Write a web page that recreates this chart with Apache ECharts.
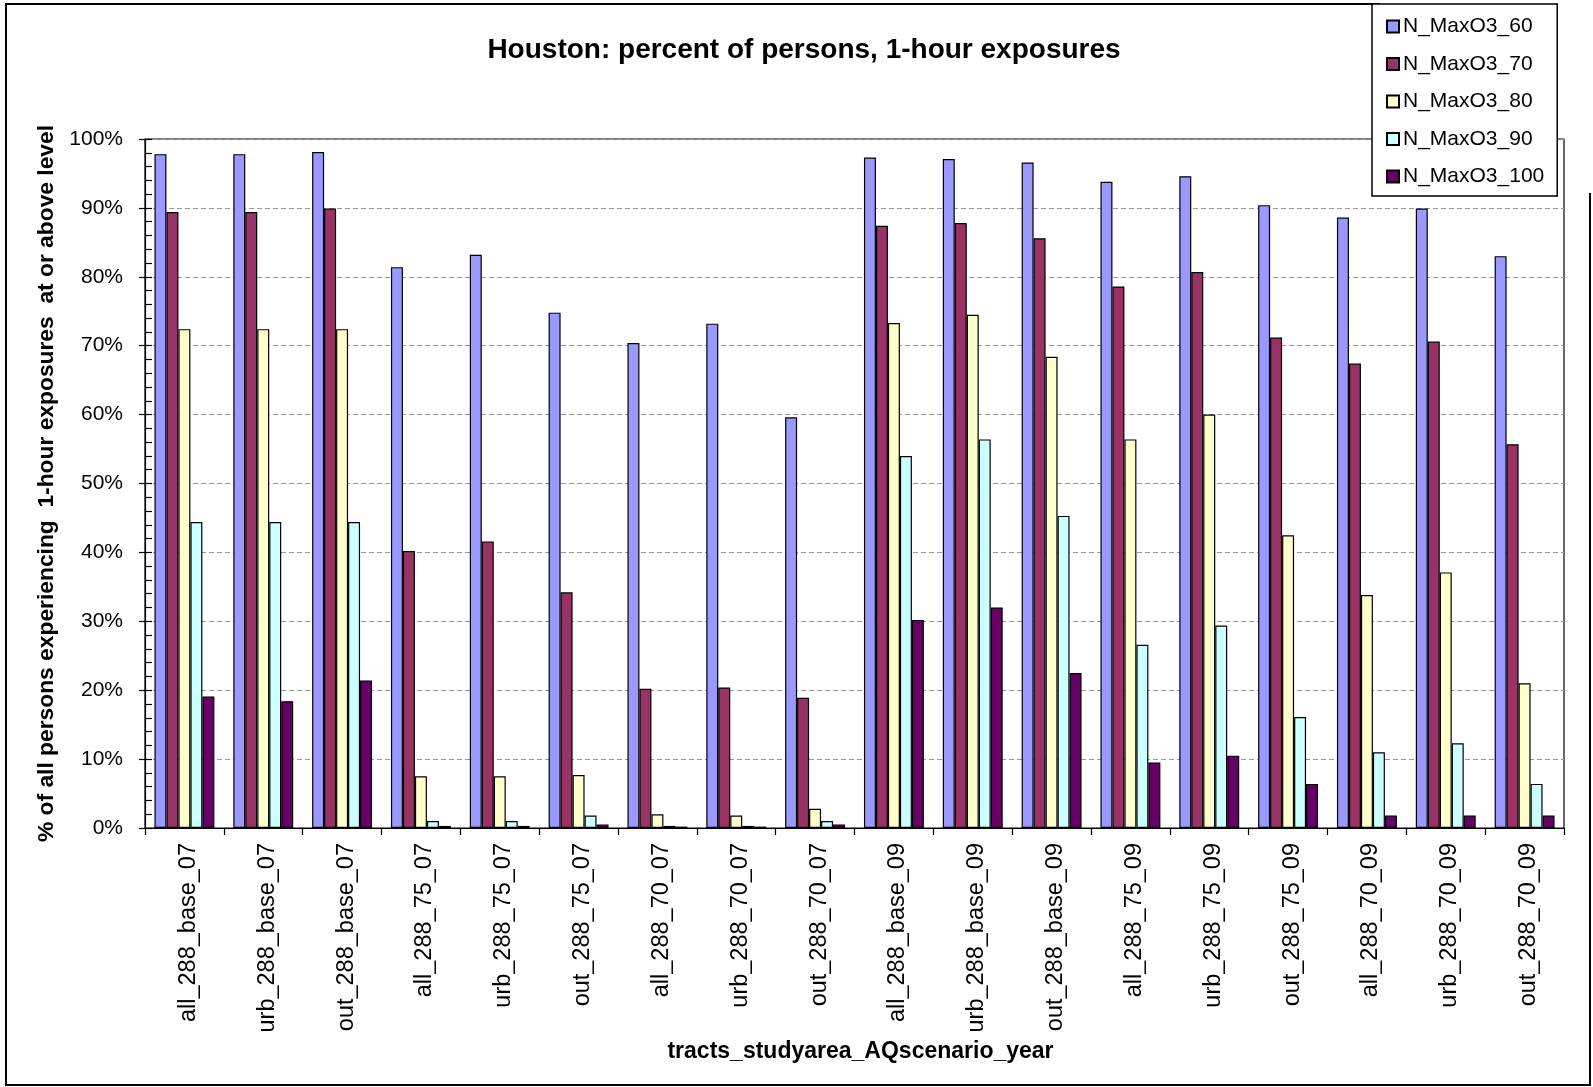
<!DOCTYPE html>
<html>
<head>
<meta charset="utf-8">
<script src="https://cdn.jsdelivr.net/npm/echarts@6/dist/echarts.min.js"></script>
<style>
  html, body { margin: 0; padding: 0; background: #fff; }
  #chart { width: 1593px; height: 1087px; }
</style>
</head>
<body>
<div id="chart"></div>
<script>
// Study-area / air-quality scenario / year combinations
const categories = [
  'all_288_base_07', 'urb_288_base_07', 'out_288_base_07',
  'all_288_75_07', 'urb_288_75_07', 'out_288_75_07',
  'all_288_70_07', 'urb_288_70_07', 'out_288_70_07',
  'all_288_base_09', 'urb_288_base_09', 'out_288_base_09',
  'all_288_75_09', 'urb_288_75_09', 'out_288_75_09',
  'all_288_70_09', 'urb_288_70_09', 'out_288_70_09'
];

const seriesNames = ['N_MaxO3_60', 'N_MaxO3_70', 'N_MaxO3_80', 'N_MaxO3_90', 'N_MaxO3_100'];

// Percent of persons with a 1-hour max O3 at or above each level
const maxO3_60  = [97.8, 97.8, 98.1, 81.4, 83.2, 74.8, 70.4, 73.2, 59.6, 97.3, 97.1, 96.6, 93.8, 94.6, 90.4, 88.6, 89.9, 83.0];
const maxO3_70  = [89.4, 89.4, 89.9, 40.2, 41.6, 34.2, 20.2, 20.4, 18.9, 87.4, 87.8, 85.6, 78.6, 80.7, 71.2, 67.4, 70.6, 55.7];
const maxO3_80  = [72.4, 72.4, 72.4, 7.5, 7.5, 7.7, 2.0, 1.8, 2.8, 73.3, 74.5, 68.4, 56.4, 60.0, 42.5, 33.8, 37.1, 21.0];
const maxO3_90  = [44.4, 44.4, 44.4, 1.0, 1.0, 1.8, 0.3, 0.3, 1.0, 54.0, 56.4, 45.3, 26.6, 29.4, 16.1, 11.0, 12.3, 6.4];
const maxO3_100 = [19.1, 18.4, 21.4, 0.3, 0.3, 0.5, 0.2, 0.2, 0.5, 30.2, 32.0, 22.5, 9.5, 10.5, 6.4, 1.8, 1.8, 1.8];

const seriesValues = [maxO3_60, maxO3_70, maxO3_80, maxO3_90, maxO3_100];
const seriesColors = ['#9999FF', '#993366', '#FFFFCC', '#CCFFFF', '#660066'];

// Value axis: 0% .. 100% in steps of 10%
const yMin = 0, yMax = 100, yStep = 10;

const FONT = '"Liberation Sans", Arial, Helvetica, sans-serif';

const chart = echarts.init(document.getElementById('chart'), null, { renderer: 'canvas' });

const option = {
  backgroundColor: '#ffffff',
  animation: false,
  title: {
    text: 'Houston: percent of persons, 1-hour exposures',
    left: 799,
    top: 31,
    textAlign: 'center',
    textStyle: { fontFamily: FONT, fontSize: 28, fontWeight: 'bold', color: '#000' }
  },
  legend: {
    orient: 'vertical',
    left: 1372,
    top: 4,
    padding: [12, 13, 9, 14],
    itemWidth: 12,
    itemHeight: 12,
    itemGap: 16.5,
    icon: 'rect',
    backgroundColor: '#ffffff',
    borderColor: '#000000',
    borderWidth: 1.5,
    textStyle: { fontFamily: FONT, fontSize: 21, color: '#000', lineHeight: 21, padding: [0, 0, 0, -1] },
    data: seriesNames
  },
  grid: {
    left: 145,
    right: 29,
    top: 139,
    bottom: 259,
    show: true,
    borderColor: '#000',
    borderWidth: 1.2,
    backgroundColor: 'transparent'
  },
  xAxis: {
    type: 'category',
    data: categories,
    name: 'tracts_studyarea_AQscenario_year',
    nameLocation: 'middle',
    nameGap: 201,
    nameTextStyle: { fontFamily: FONT, fontSize: 23, fontWeight: 'bold', color: '#000', padding: [0, 0, 0, 12] },
    axisLine: { lineStyle: { color: '#000', width: 1.2 } },
    axisTick: { show: true, length: 7, lineStyle: { color: '#000', width: 1.2 } },
    axisLabel: {
      interval: 0,
      rotate: 90,
      margin: 15,
      verticalAlign: 'top',
      lineHeight: 8,
      fontFamily: FONT,
      fontSize: 23.5,
      color: '#000'
    }
  },
  yAxis: [
    {
      type: 'value',
      min: yMin,
      max: yMax,
      interval: yStep,
      name: '% of all persons experiencing  1-hour exposures  at or above level',
      nameLocation: 'middle',
      nameGap: 87,
      nameTextStyle: { fontFamily: FONT, fontSize: 22.8, fontWeight: 'bold', color: '#000' },
      axisLine: { show: true, lineStyle: { color: '#000', width: 1.2 } },
      axisTick: { show: true, inside: false, length: 6, lineStyle: { color: '#000', width: 1.2 } },
      axisLabel: {
        formatter: '{value}%',
        margin: 22,
        fontFamily: FONT,
        fontSize: 21,
        color: '#000'
      },
      splitLine: { show: true, lineStyle: { color: '#999', width: 1, type: [5, 3] } }
    },
    {
      // inner major + minor tick marks on the same left axis
      type: 'value',
      position: 'left',
      offset: 0,
      min: yMin,
      max: yMax,
      interval: yStep,
      axisLine: { show: false },
      axisLabel: { show: false },
      splitLine: { show: false },
      axisTick: { show: true, inside: true, length: 7, lineStyle: { color: '#000', width: 1.2 } },
      minorTick: { show: true, splitNumber: 5, length: 7, lineStyle: { color: '#000', width: 1.2 } }
    }
  ],
  series: seriesNames.map((name, i) => ({
    name: name,
    type: 'bar',
    data: seriesValues[i],
    barGap: '0%',
    barCategoryGap: '24%',
    itemStyle: { color: seriesColors[i], borderColor: '#000', borderWidth: 1.2 }
  })),
  graphic: [
    {
      // outer chart frame
      type: 'polyline',
      z: 0,
      silent: true,
      shape: { points: [[1380, 4], [6, 4], [6, 1085], [1590, 1085], [1590, 193]] },
      style: { stroke: '#000', lineWidth: 2, fill: null }
    }
  ]
};

chart.setOption(option);
</script>
</body>
</html>
